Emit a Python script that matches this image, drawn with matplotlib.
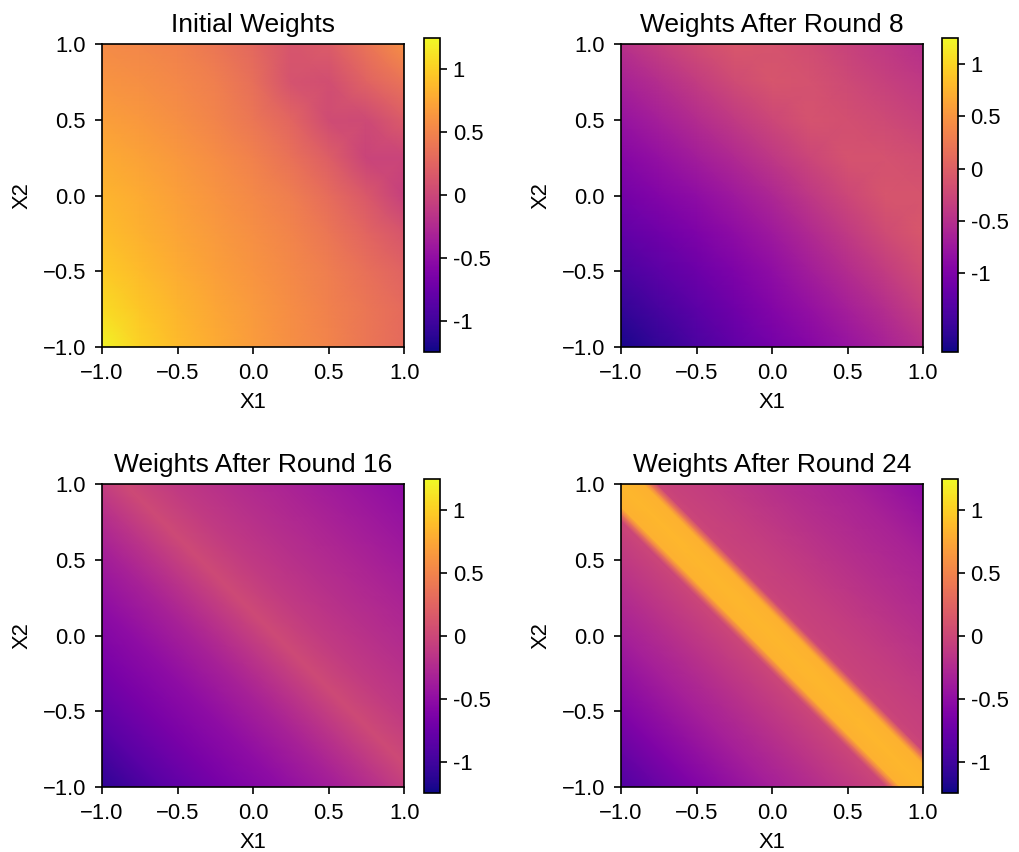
import numpy as np
import matplotlib.pyplot as plt

plt.rcParams['font.family'] = ['Liberation Sans', 'DejaVu Sans']
plt.rcParams['font.size'] = 15.8

titles = ['Initial Weights', 'Weights After Round 8',
          'Weights After Round 16', 'Weights After Round 24']
vmins = [-1.25, -1.75, -1.25, -1.25]
vmaxs = [1.25, 1.25, 1.25, 1.25]
axis_ticks = [-1.0, -0.5, 0.0, 0.5, 1.0]
cbar_ticks = [-1, -0.5, 0, 0.5, 1]
cbar_labels = ['-1', '-0.5', '0', '0.5', '1']

# weight grids, rows from X2=1 (top) down to X2=-1,
# columns from X1=-1 to X1=1
w_init = [
    [0.55, 0.52, 0.48, 0.40, 0.28, 0.12, 0.18, 0.38, 0.58],
    [0.62, 0.58, 0.53, 0.46, 0.34, 0.10, 0.06, 0.24, 0.38],
    [0.70, 0.65, 0.58, 0.50, 0.40, 0.26, 0.04, 0.02, 0.18],
    [0.78, 0.72, 0.65, 0.57, 0.48, 0.36, 0.20, -0.02, -0.02],
    [0.84, 0.78, 0.70, 0.62, 0.54, 0.45, 0.32, 0.15, -0.06],
    [0.90, 0.82, 0.74, 0.66, 0.58, 0.50, 0.40, 0.26, 0.12],
    [0.98, 0.88, 0.79, 0.70, 0.62, 0.54, 0.45, 0.35, 0.24],
    [1.08, 0.95, 0.84, 0.75, 0.66, 0.57, 0.48, 0.40, 0.30],
    [1.22, 1.02, 0.88, 0.78, 0.68, 0.58, 0.50, 0.40, 0.30],
]

w_r8 = [
    [-0.48, -0.33, -0.19, -0.08, -0.11, -0.19, -0.30, -0.40, -0.50],
    [-0.64, -0.51, -0.36, -0.21, -0.10, -0.14, -0.22, -0.32, -0.40],
    [-0.80, -0.67, -0.53, -0.38, -0.24, -0.13, -0.16, -0.22, -0.30],
    [-0.94, -0.82, -0.69, -0.56, -0.41, -0.26, -0.13, -0.14, -0.19],
    [-1.08, -0.96, -0.85, -0.72, -0.58, -0.41, -0.24, -0.10, -0.11],
    [-1.22, -1.11, -0.99, -0.87, -0.72, -0.56, -0.38, -0.21, -0.08],
    [-1.38, -1.25, -1.13, -0.99, -0.85, -0.69, -0.53, -0.36, -0.19],
    [-1.54, -1.40, -1.25, -1.11, -0.96, -0.82, -0.67, -0.51, -0.33],
    [-1.70, -1.54, -1.38, -1.22, -1.08, -0.94, -0.80, -0.64, -0.48],
]

# rounds 16 and 24 only change across the diagonal: profiles over X1+X2
r16_s = [-2.0, -1.6, -1.2, -0.8, -0.4, -0.1, 0.15, 0.45, 0.8,
         1.2, 1.6, 2.0]
r16_w = [-1.10, -0.85, -0.66, -0.50, -0.32, -0.14, 0.02, -0.10, -0.20,
         -0.30, -0.41, -0.52]

r24_s = [-2.0, -1.5, -1.0, -0.6, -0.3, -0.24, -0.19, -0.15, 0.0,
         0.15, 0.19, 0.24, 0.3, 0.6, 1.0, 1.5, 2.0]
r24_w = [-0.90, -0.60, -0.35, -0.17, -0.03, 0.0, 0.45, 0.82, 0.85,
         0.82, 0.45, 0.0, -0.03, -0.09, -0.20, -0.32, -0.52]

panels = [w_init, w_r8, (r16_s, r16_w), (r24_s, r24_w)]

fig = plt.figure(figsize=(10.19, 8.52), dpi=100)

ax_pos = [(0.1001, 0.5927), (0.6094, 0.5927), (0.1001, 0.0763), (0.6094, 0.0763)]
cb_pos = [(0.4161, 0.5869), (0.9244, 0.5869), (0.4161, 0.0692), (0.9244, 0.0692)]

for i in range(4):
    ax = fig.add_axes([ax_pos[i][0], ax_pos[i][1], 0.2965, 0.3556])
    if i < 2:
        z = np.array(panels[i])
        xs = np.linspace(-1, 1, z.shape[1])
        ys = np.linspace(1, -1, z.shape[0])
        m = ax.pcolormesh(xs, ys, z, shading='gouraud', cmap='plasma',
                          vmin=vmins[i], vmax=vmaxs[i])
    else:
        s, w = panels[i]
        S, D = np.meshgrid(np.array(s), np.array([-2.0, 2.0]))
        z = np.vstack([w, w])
        m = ax.pcolormesh((S - D) / 2, (S + D) / 2, z, shading='gouraud',
                          cmap='plasma', vmin=vmins[i], vmax=vmaxs[i])
    ax.set_xlim(-1, 1)
    ax.set_ylim(-1, 1)
    ax.set_xticks(axis_ticks)
    ax.set_yticks(axis_ticks)
    ax.tick_params(length=5.1, width=1.2, pad=6.5)
    for sp in ax.spines.values():
        sp.set_linewidth(1.2)
    ax.set_title(titles[i], fontsize=19, pad=9)
    ax.set_xlabel('X1', labelpad=6)
    ax.set_ylabel('X2', labelpad=7)

    cax = fig.add_axes([cb_pos[i][0], cb_pos[i][1], 0.0157, 0.3685])
    cb = fig.colorbar(m, cax=cax, ticks=cbar_ticks)
    cb.ax.set_yticklabels(cbar_labels)
    cb.ax.tick_params(length=5.1, width=1.2, pad=4)
    cb.outline.set_linewidth(1.2)

fig.savefig('out.png', dpi=100)
